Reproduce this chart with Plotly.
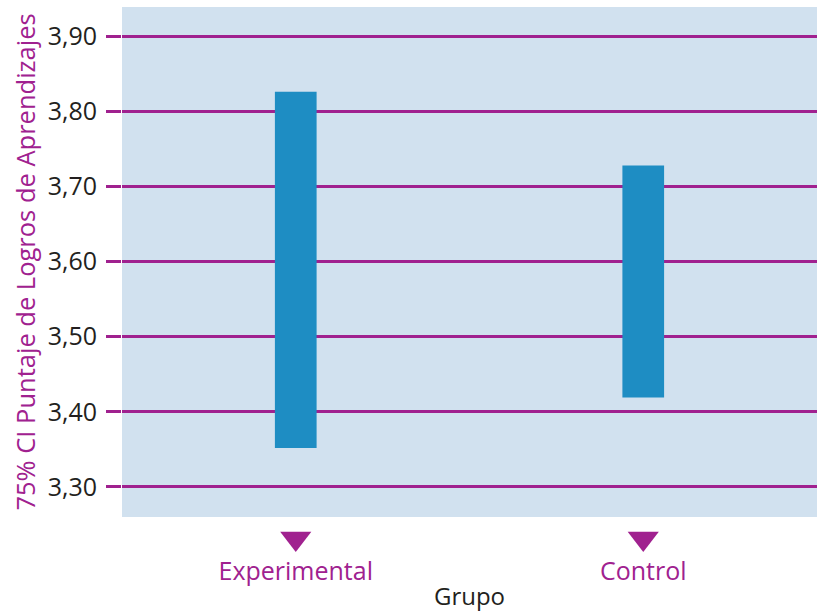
import plotly.graph_objects as go

grupos = ["Experimental", "Control"]
ci_lower = [3.352, 3.419]
ci_upper = [3.826, 3.728]
y_ticks = [3.30, 3.40, 3.50, 3.60, 3.70, 3.80, 3.90]
y_labels = ["3,30", "3,40", "3,50", "3,60", "3,70", "3,80", "3,90"]

MAG = "#A0218F"
DARK = "#231F20"
FONT = "Open Sans"

H, T, B = 613, 7, 61
area = H - T - B
main_bottom_px = 517
sub_top_px = 525
d_main = (H - B - main_bottom_px) / area
d_sub = (H - B - sub_top_px) / area

fig = go.Figure()
fig.add_trace(go.Bar(
    x=grupos,
    y=[u - l for u, l in zip(ci_upper, ci_lower)],
    base=ci_lower,
    width=0.12,
    marker=dict(color="#1E8DC3", line=dict(width=0)),
    hoverinfo="skip",
    xaxis="x", yaxis="y",
))
fig.add_trace(go.Scatter(
    x=grupos,
    y=[0.5] * len(grupos),
    mode="markers",
    marker=dict(symbol="triangle-down", size=27, color=MAG),
    cliponaxis=False,
    hoverinfo="skip",
    xaxis="x2", yaxis="y2",
))

fig.add_shape(type="rect", xref="x domain", yref="y domain",
              x0=0, x1=1, y0=0, y1=1, fillcolor="#D1E1EF",
              line=dict(width=0), layer="below")

fig.update_layout(
    width=817, height=613,
    margin=dict(l=122, r=0, t=T, b=B),
    paper_bgcolor="white",
    plot_bgcolor="rgba(0,0,0,0)",
    showlegend=False,
    font=dict(family=FONT, color=DARK),
    xaxis=dict(
        type="category", range=[-0.5, 1.5], anchor="y",
        showgrid=False, zeroline=False, showline=False,
        ticks="", showticklabels=False,
    ),
    yaxis=dict(
        domain=[d_main, 1], anchor="x",
        range=[3.26, 3.939],
        tickvals=y_ticks, ticktext=y_labels,
        showgrid=True, gridcolor=MAG, gridwidth=3,
        zeroline=False, showline=False,
        ticks="outside", ticklen=15, tickwidth=3, tickcolor=MAG,
        tickfont=dict(size=25, color=DARK, family=FONT),
        ticklabelstandoff=4,
        title=dict(text="75% CI Puntaje de Logros de Aprendizajes",
                   font=dict(size=25.5, color=MAG, family=FONT), standoff=4),
        layer="below traces",
    ),
    xaxis2=dict(
        type="category", range=[-0.5, 1.5], anchor="y2",
        showgrid=False, zeroline=False, showline=False,
        ticks="",
        tickfont=dict(size=25, color=MAG, family=FONT),
        ticklabelstandoff=2,
        title=dict(text="Grupo", font=dict(size=24, color=DARK, family=FONT), standoff=2),
    ),
    yaxis2=dict(
        domain=[0, d_sub], anchor="x2", range=[0, 1],
        visible=False, showgrid=False, zeroline=False,
    ),
)

fig.write_html("out.html")
